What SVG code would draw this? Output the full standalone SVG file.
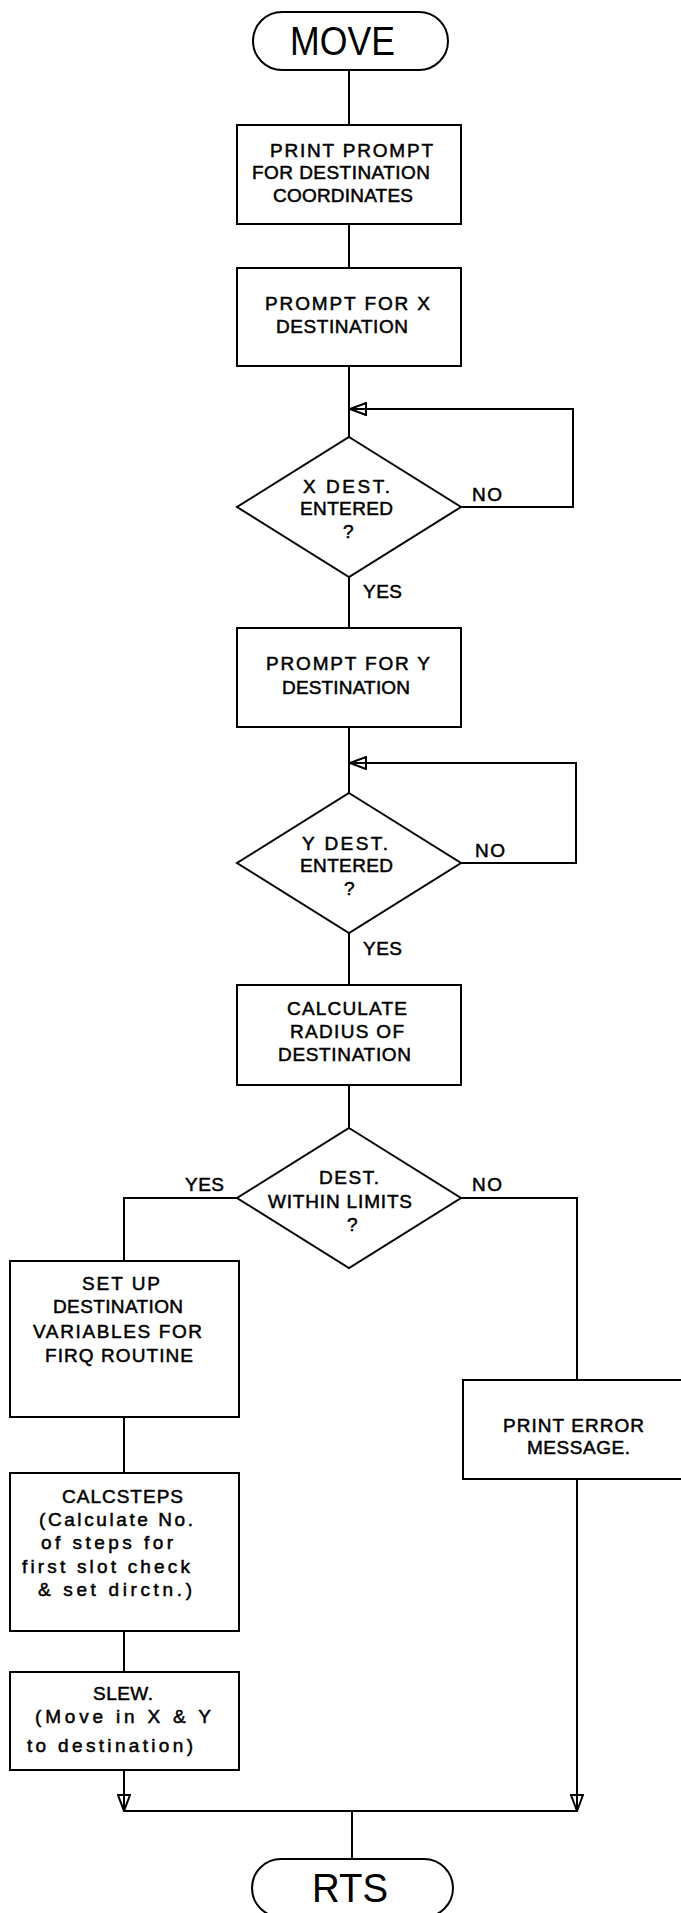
<svg xmlns="http://www.w3.org/2000/svg" width="681" height="1913" viewBox="0 0 681 1913">
<style>
.bg{fill:#fff}
.s{fill:#fff;stroke:#000;stroke-width:2}
.c{fill:none;stroke:#000;stroke-width:2}
text{font-family:"Liberation Sans",Arial,sans-serif;fill:#000}
.t{font-size:19px;stroke:#000;stroke-width:0.5}
.big{font-size:41px}
</style>
<defs>
<marker id="arr" viewBox="0 0 18 14" refX="17" refY="7" markerWidth="18" markerHeight="14" markerUnits="userSpaceOnUse" orient="auto">
<path d="M1,1 L17,7 L1,13 Z" fill="none" stroke="#000" stroke-width="2"/>
</marker>
</defs>
<rect class="bg" x="0" y="0" width="681" height="1913"/>

<g id="connectors">
<path class="c" d="M349,70 V125"/>
<path class="c" d="M349,224 V268"/>
<path class="c" d="M349,366 V437"/>
<path class="c" d="M461,507 H573 V409 H350" marker-end="url(#arr)"/>
<path class="c" d="M349,577 V628"/>
<path class="c" d="M349,727 V793"/>
<path class="c" d="M461,863 H576 V763 H350" marker-end="url(#arr)"/>
<path class="c" d="M349,933 V985"/>
<path class="c" d="M349,1085 V1128"/>
<path class="c" d="M237,1198 H124 V1261"/>
<path class="c" d="M124,1417 V1473"/>
<path class="c" d="M124,1631 V1672"/>
<path class="c" d="M124,1770 V1811" marker-end="url(#arr)"/>
<path class="c" d="M461,1198 H577 V1380"/>
<path class="c" d="M577,1479 V1811" marker-end="url(#arr)"/>
<path class="c" d="M124,1811 H577"/>
<path class="c" d="M352,1811 V1859"/>
<text class="t" x="472" y="501" textLength="30">NO</text>
<text class="t" x="363" y="598" textLength="39">YES</text>
<text class="t" x="475" y="857" textLength="30">NO</text>
<text class="t" x="363" y="955" textLength="39">YES</text>
<text class="t" x="185" y="1191" textLength="39">YES</text>
<text class="t" x="472" y="1191" textLength="30">NO</text>
</g>

<g id="move">
<rect class="s" x="253" y="12" width="195" height="58" rx="29"/>
<text class="big" x="290" y="55" textLength="105" lengthAdjust="spacingAndGlyphs">MOVE</text>
</g>

<g id="print-prompt">
<rect class="s" x="237" y="125" width="224" height="99"/>
<text class="t" x="270" y="157" textLength="163">PRINT PROMPT</text>
<text class="t" x="252" y="179" textLength="178">FOR DESTINATION</text>
<text class="t" x="273" y="202" textLength="140">COORDINATES</text>
</g>

<g id="prompt-x">
<rect class="s" x="237" y="268" width="224" height="98"/>
<text class="t" x="265" y="310" textLength="165">PROMPT FOR X</text>
<text class="t" x="276" y="333" textLength="132">DESTINATION</text>
</g>

<g id="x-entered">
<path class="s" d="M349,437 L461,507 L349,577 L237,507 Z"/>
<text class="t" x="303" y="493" textLength="87">X DEST.</text>
<text class="t" x="300" y="515" textLength="93">ENTERED</text>
<text class="t" x="343" y="538">?</text>
</g>

<g id="prompt-y">
<rect class="s" x="237" y="628" width="224" height="99"/>
<text class="t" x="266" y="670" textLength="164">PROMPT FOR Y</text>
<text class="t" x="282" y="694" textLength="128">DESTINATION</text>
</g>

<g id="y-entered">
<path class="s" d="M349,793 L461,863 L349,933 L237,863 Z"/>
<text class="t" x="302" y="850" textLength="86">Y DEST.</text>
<text class="t" x="300" y="872" textLength="93">ENTERED</text>
<text class="t" x="344" y="895">?</text>
</g>

<g id="calc-radius">
<rect class="s" x="237" y="985" width="224" height="100"/>
<text class="t" x="287" y="1015" textLength="120">CALCULATE</text>
<text class="t" x="290" y="1038" textLength="114">RADIUS OF</text>
<text class="t" x="278" y="1061" textLength="133">DESTINATION</text>
</g>

<g id="within-limits">
<path class="s" d="M349,1128 L461,1198 L349,1268 L237,1198 Z"/>
<text class="t" x="319" y="1184" textLength="60">DEST.</text>
<text class="t" x="268" y="1208" textLength="144">WITHIN LIMITS</text>
<text class="t" x="347" y="1231">?</text>
</g>

<g id="setup-vars">
<rect class="s" x="10" y="1261" width="229" height="156"/>
<text class="t" x="82" y="1290" textLength="78">SET UP</text>
<text class="t" x="53" y="1313" textLength="130">DESTINATION</text>
<text class="t" x="33" y="1338" textLength="169">VARIABLES FOR</text>
<text class="t" x="45" y="1362" textLength="148">FIRQ ROUTINE</text>
</g>

<g id="calcsteps">
<rect class="s" x="10" y="1473" width="229" height="158"/>
<text class="t" x="62" y="1503" textLength="121">CALCSTEPS</text>
<text class="t" x="39" y="1526" textLength="154">(Calculate No.</text>
<text class="t" x="41" y="1549" textLength="132">of steps for</text>
<text class="t" x="22" y="1573" textLength="168">first slot check</text>
<text class="t" x="38" y="1596" textLength="154">&amp; set dirctn.)</text>
</g>

<g id="slew">
<rect class="s" x="10" y="1672" width="229" height="98"/>
<text class="t" x="93" y="1700" textLength="60">SLEW.</text>
<text class="t" x="35" y="1723" textLength="176">(Move in X &amp; Y</text>
<text class="t" x="27" y="1752" textLength="166">to destination)</text>
</g>

<g id="print-error">
<rect class="s" x="463" y="1380" width="229" height="99"/>
<text class="t" x="503" y="1432" textLength="141">PRINT ERROR</text>
<text class="t" x="527" y="1454" textLength="103">MESSAGE.</text>
</g>

<g id="rts">
<rect class="s" x="252" y="1859" width="201" height="58" rx="29"/>
<text class="big" x="312" y="1902" textLength="76" lengthAdjust="spacingAndGlyphs">RTS</text>
</g>
</svg>
